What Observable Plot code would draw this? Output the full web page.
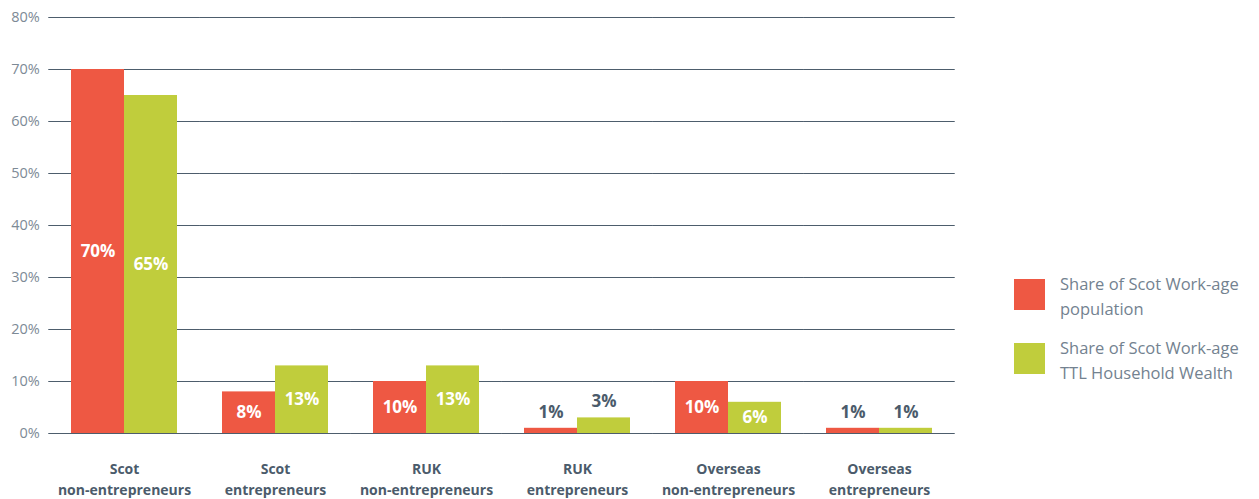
<!DOCTYPE html>
<html>
<head>
<meta charset="utf-8">
<script src="https://cdn.jsdelivr.net/npm/d3@7"></script>
<script src="https://cdn.jsdelivr.net/npm/@observablehq/plot@0.6"></script>
<style>
  html, body { margin: 0; padding: 0; background: #fff; }
  #wrap { position: relative; width: 1259px; height: 499px; }
  #legend { position: absolute; left: 1014px; top: 271px; font-family: "Open Sans", sans-serif; font-size: 16.5px; color: #738290; }
  .item { display: flex; align-items: flex-start; margin-bottom: 14px; }
  .sw { width: 31px; height: 31px; margin-right: 15px; margin-top: 8px; flex: none; }
  .lab { line-height: 25px; white-space: nowrap; }
</style>
</head>
<body>
<div id="wrap"><div id="chart"></div><div id="legend"></div></div>
<script>
const categories = ["Scot non-entrepreneurs", "Scot entrepreneurs", "RUK non-entrepreneurs", "RUK entrepreneurs", "Overseas non-entrepreneurs", "Overseas entrepreneurs"];
const tickLabels = ["Scot\nnon-entrepreneurs", "Scot\nentrepreneurs", "RUK\nnon-entrepreneurs", "RUK\nentrepreneurs", "Overseas\nnon-entrepreneurs", "Overseas\nentrepreneurs"];
const series = ["Share of Scot Work-age population", "Share of Scot Work-age TTL Household Wealth"];
const legendLabels = ["Share of Scot Work-age<br>population", "Share of Scot Work-age<br>TTL Household Wealth"];
const population = [70, 8, 10, 1, 10, 1];
const wealth = [65, 13, 13, 3, 6, 1];
const yTicks = [0, 10, 20, 30, 40, 50, 60, 70, 80];
const colors = ["#ee5843", "#c0cd3c"];

const data = [];
categories.forEach((c, i) => {
  data.push({category: c, series: series[0], value: population[i]});
  data.push({category: c, series: series[1], value: wealth[i]});
});
const inside = data.filter(d => d.value >= 5);
const outside = data.filter(d => d.value < 5);

const W = 970, ML = 47, MR = 14, PI = 0.3, PO = 0.15;
const step = (W - ML - MR) / (categories.length - PI + 2 * PO);
const ext = PO * step; // rule extension so gridlines span the whole frame

const chart = Plot.plot({
  width: W,
  height: 499,
  marginTop: 17,
  marginBottom: 66,
  marginLeft: ML,
  marginRight: MR,
  style: {fontFamily: "'Open Sans', sans-serif", background: "white"},
  fx: {domain: categories, paddingInner: PI, paddingOuter: PO, label: null, axis: null},
  x: {domain: series, padding: 0, axis: null},
  y: {domain: [0, 80], axis: null},
  color: {domain: series, range: colors},
  marks: [
    Plot.ruleY(yTicks, {y: d => d, stroke: "#4d5d6c", strokeWidth: 1, insetLeft: -ext, insetRight: -ext}),
    Plot.axisY({ticks: yTicks, tickFormat: d => d + "%", tickSize: 0, tickPadding: ext + 9, fontSize: 14.5, fill: "#7d8a96", label: null}),
    Plot.barY(data, {fx: "category", x: "series", y: "value", fill: "series"}),
    Plot.text(inside, {fx: "category", x: "series", y: d => d.value / 2, text: d => d.value + "%", fill: "white", fontWeight: "bold", fontSize: 17}),
    Plot.text(outside, {fx: "category", x: "series", y: "value", text: d => d.value + "%", dy: -16, fill: "#4b5b6b", fontWeight: "bold", fontSize: 17}),
    Plot.axisFx({anchor: "bottom", tickSize: 0, tickPadding: 26, fontSize: 14, fontWeight: "bold", fill: "#4b5b6b", lineHeight: 1.5, tickFormat: d => tickLabels[categories.indexOf(d)], label: null})
  ]
});
document.getElementById("chart").appendChild(chart);

const legend = document.getElementById("legend");
series.forEach((s, i) => {
  const it = document.createElement("div");
  it.className = "item";
  it.innerHTML = `<div class="sw" style="background:${colors[i]}"></div><div class="lab">${legendLabels[i]}</div>`;
  legend.appendChild(it);
});
</script>
</body>
</html>
